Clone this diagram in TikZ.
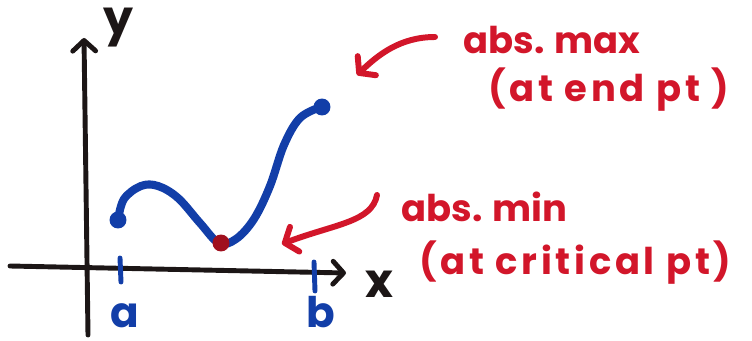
\documentclass[tikz,border=0pt]{standalone}
\usepackage{fontspec}
\setmainfont{Poppins}
\usetikzlibrary{arrows.meta}
\definecolor{penblue}{RGB}{18,62,168}
\definecolor{penred}{RGB}{210,22,42}
\definecolor{penink}{RGB}{28,22,22}
\definecolor{dotred}{RGB}{160,16,30}

\begin{document}
\begin{tikzpicture}[x=0.02cm, y=-0.02cm,
    axis/.style = {draw=penink, line width=2.8pt, line cap=round, -{Straight Barb[round,length=6pt,width=13pt]}},
    redarrow/.style = {draw=penred, line width=3.4pt, line cap=round, -{Straight Barb[round,length=6pt,width=15pt]}},
    tick/.style = {draw=penblue, line width=2.8pt, line cap=round},
    curve/.style = {draw=penblue, line width=4.6pt, line cap=round},
    dot/.style = {circle, fill=penblue, inner sep=0pt, minimum size=0.34cm},
    lab/.style = {font=\fontsize{27}{27}\selectfont\bfseries, text=penink},
    ends/.style = {font=\fontsize{24}{24}\selectfont\bfseries, text=penblue, anchor=base, inner sep=1pt},
    note/.style = {font=\fontsize{21}{23}\selectfont\bfseries, text=penred, anchor=west, inner sep=0pt},
    spaced/.style = {font=\fontsize{21}{23}\selectfont\bfseries\addfontfeatures{LetterSpace=10}}]
            \useasboundingbox (0,0) rectangle (752,341);

            % axes
            \coordinate (ybot) at (88,335);
            \coordinate (ytop) at (84,38);
            \coordinate (xleft) at (10,266);
            \coordinate (xright) at (346,273);
            \draw[axis] (ybot) -- (ytop);
            \draw[axis] (xleft) -- (xright);
            \node[lab] (ylab) at (118,28) {y};
            \node[lab] (xlab) at (379,284) {x};

            % interval ends
            \coordinate (atop) at (120,258);
            \coordinate (abot) at (121,282);
            \coordinate (btop) at (314,262);
            \coordinate (bbot) at (315,291);
            \draw[tick] (atop) -- (abot);
            \draw[tick] (btop) -- (bbot);
            \node[ends] (alab) at (125,328) {a};
            \node[ends] (blab) at (321,328) {b};

            % the function
            \draw[curve] plot[smooth, tension=0.6] coordinates {(118,220) (124,199) (141,186) (158,186) (178,198) (200,223) (219,243) (236,239) (254,219) (270,186) (284,145) (300,118) (321,107)};
            \node[dot] (P) at (118,220) {};
            \node[dot] (Q) at (322,107) {};
            \node[dot, fill=dotred] (R) at (221,243) {};

            % labels
            \node[note] (maxtext) at (463,40) {abs. max};
            \node[note, spaced] (maxnote) at (488,90) {(at end pt )};
            \node[note] (mintext) at (401,207) {abs. min};
            \node[note, spaced] (minnote) at (419,263) {(at critical pt)};

            \coordinate (maxfrom) at (435,37);
            \coordinate (maxto) at (357,75);
            \coordinate (minfrom) at (377,195);
            \coordinate (minto) at (282,244);
            \draw[redarrow] (maxfrom) .. controls (400,37) and (378,55) .. (maxto);
            \draw[redarrow] (minfrom) .. controls (372,222) and (335,224) .. (minto);
        \end{tikzpicture}
\end{document}
